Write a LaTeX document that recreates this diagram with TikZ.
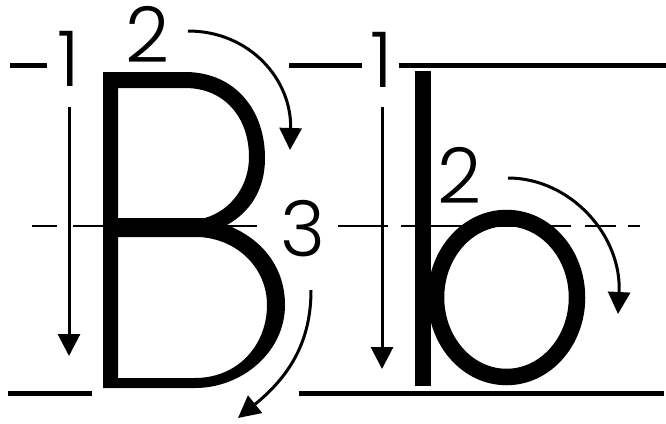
\documentclass[tikz,border=0pt]{standalone}
\usepackage{fontspec}
\newfontfamily\digitfont{Poppins Light}
\usetikzlibrary{arrows.meta}
\begin{document}
\begin{tikzpicture}[x=1pt,y=-1pt,
  guide/.style={line width=5pt},
  midline/.style={line width=2pt},
  strokearrow/.style={line width=3pt, -{Triangle[length=22pt,width=22pt]}},
  digit/.style={font=\digitfont\fontsize{77}{77}\selectfont, inner sep=0pt, anchor=base}]
\useasboundingbox (0,0) rectangle (666,423);
% writing guide lines
\draw[guide] (10,65.5) -- (47,65.5);
\draw[guide] (289,65.5) -- (362,65.5);
\draw[guide] (399,65.5) -- (666,65.5);
\draw[guide] (8,393.5) -- (92,393.5);
\draw[guide] (299,393.5) -- (664,393.5);
% dashed midline
\foreach \a/\b in {32/57,73/257,338/388,401/571,585/616,628/640}
  \draw[midline] (\a,226) -- (\b,226);
% letter B
\fill[even odd rule] (103,72) -- (185,72) .. controls (235,72) and (265,110) .. (265,158)
   .. controls (265,190) and (250,212) .. (227,225)
   .. controls (265,240) and (285,270) .. (285,305)
   .. controls (285,352) and (242,388) .. (195,388) -- (103,388) -- cycle
  (118,88) -- (185,88) .. controls (225,88) and (249,118) .. (249,157)
   .. controls (249,185) and (232,210) .. (205,218) -- (118,218) -- cycle
  (118,237) -- (200,237) .. controls (240,240) and (267,270) .. (267,305)
   .. controls (267,345) and (238,378) .. (195,378) -- (118,378) -- cycle;
% letter b
\fill (415,71) rectangle (431,386);
\draw[line width=16.5pt] (506.5,297.5) ellipse [x radius=70.5pt, y radius=79.5pt];
% stroke arrows
\coordinate (a1s) at (69,107);
\coordinate (a1e) at (69,356);
\coordinate (b1s) at (382,107);
\coordinate (b1e) at (382,369);
\coordinate (a2s) at (188,31);
\coordinate (a2e) at (290,150);
\coordinate (a3s) at (311,290);
\coordinate (a3e) at (238,418);
\coordinate (b2s) at (508,178);
\coordinate (b2e) at (618,314);
\draw[strokearrow] (a1s) -- (a1e);
\draw[strokearrow] (b1s) -- (b1e);
\draw[strokearrow] (a2s) .. controls (250,31) and (292,80) .. (a2e);
\draw[strokearrow] (a3s) .. controls (311,335) and (295,372) .. (a3e);
\draw[strokearrow] (b2s) .. controls (570,178) and (622,235) .. (b2e);
% numbers
\node[digit] (n1a) at (69,86) {1};
\node[digit] (n2a) at (148,62) {2};
\node[digit] (n3) at (303,256) {3};
\node[digit] (n1b) at (382,87) {1};
\node[digit] (n2b) at (460,203) {2};
\end{tikzpicture}
\end{document}
